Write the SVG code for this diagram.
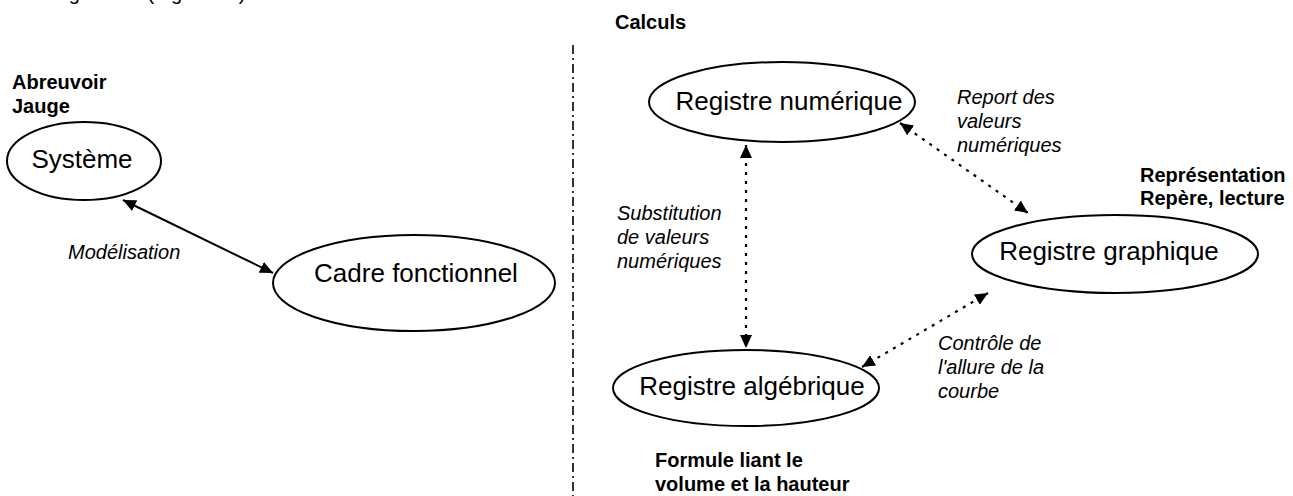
<svg xmlns="http://www.w3.org/2000/svg" width="1293" height="496" viewBox="0 0 1293 496">
<style>
.node{fill:none;stroke:#000;stroke-width:2}
.big{font-family:"Liberation Sans",Arial,sans-serif;font-size:26px;fill:#000;text-anchor:middle}
.bold{font-family:"Liberation Sans",Arial,sans-serif;font-size:20px;font-weight:bold;fill:#000}
.ital{font-family:"Liberation Sans",Arial,sans-serif;font-size:20px;font-style:italic;fill:#000}
.solid{stroke:#000;stroke-width:2;fill:none}
.dotted{stroke:#000;stroke-width:2.2;fill:none;stroke-dasharray:3 6}
.divider{stroke:#000;stroke-width:1.6;fill:none;stroke-dasharray:9 4 2 4}
</style>
<defs>
<marker id="ah" markerUnits="userSpaceOnUse" markerWidth="14" markerHeight="12" refX="13" refY="6" orient="auto-start-reverse">
<path d="M0,0 L13,6 L0,12 z" fill="#000"/>
</marker>
</defs>
<rect width="1293" height="496" fill="#fff"/>
<text class="bold" x="42" y="0" style="font-weight:normal">diagramme (Figure 12)</text>
<line class="divider" x1="573" y1="45" x2="573" y2="496"/>
<text class="bold" x="12" y="89">Abreuvoir</text>
<text class="bold" x="12" y="113">Jauge</text>
<text class="ital" x="68" y="259">Modélisation</text>
<text class="bold" x="615" y="29">Calculs</text>
<text class="ital" x="957" y="104">Report des</text>
<text class="ital" x="957" y="128">valeurs</text>
<text class="ital" x="957" y="152">numériques</text>
<text class="bold" x="1140" y="182">Représentation</text>
<text class="bold" x="1140" y="205">Repère, lecture</text>
<text class="ital" x="617" y="220">Substitution</text>
<text class="ital" x="617" y="244">de valeurs</text>
<text class="ital" x="617" y="268">numériques</text>
<text class="ital" x="938" y="350">Contrôle de</text>
<text class="ital" x="938" y="374">l'allure de la</text>
<text class="ital" x="938" y="398">courbe</text>
<text class="bold" x="655" y="467">Formule liant le</text>
<text class="bold" x="655" y="491">volume et la hauteur</text>
<g id="systeme">
<ellipse class="node" cx="84" cy="161" rx="77" ry="39"/>
<text class="big" x="82" y="168">Système</text>
</g>
<g id="cadre">
<ellipse class="node" cx="414" cy="283" rx="141" ry="48"/>
<text class="big" x="416" y="282">Cadre fonctionnel</text>
</g>
<g id="numerique">
<ellipse class="node" cx="782" cy="102" rx="133" ry="40"/>
<text class="big" x="789" y="110">Registre numérique</text>
</g>
<g id="graphique">
<ellipse class="node" cx="1115" cy="254" rx="143" ry="39"/>
<text class="big" x="1109" y="260">Registre graphique</text>
</g>
<g id="algebrique">
<ellipse class="node" cx="746" cy="388" rx="133" ry="38"/>
<text class="big" x="752" y="395">Registre algébrique</text>
</g>
<g id="connectors">
<line class="solid" x1="123" y1="200" x2="273" y2="273" marker-start="url(#ah)" marker-end="url(#ah)"/>
<line class="dotted" x1="746" y1="145" x2="746" y2="348" marker-start="url(#ah)" marker-end="url(#ah)"/>
<line class="dotted" x1="900" y1="123" x2="1028" y2="213" marker-start="url(#ah)" marker-end="url(#ah)"/>
<line class="dotted" x1="862" y1="367" x2="988" y2="293" marker-start="url(#ah)" marker-end="url(#ah)"/>
</g>
</svg>
